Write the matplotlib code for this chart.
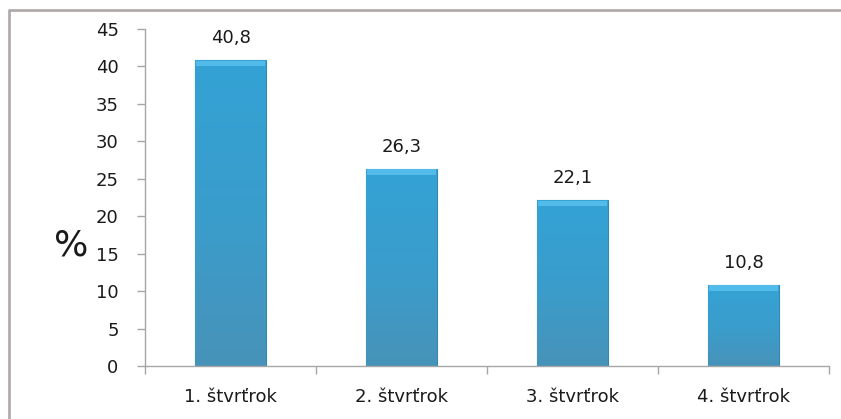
import matplotlib
matplotlib.use("Agg")
import matplotlib.pyplot as plt
from matplotlib.lines import Line2D
from matplotlib.colors import LinearSegmentedColormap
import numpy as np

categories = ["1. štvrťrok", "2. štvrťrok", "3. štvrťrok", "4. štvrťrok"]
values = [40.8, 26.3, 22.1, 10.8]
value_labels = ["40,8", "26,3", "22,1", "10,8"]
yticks = [0, 5, 10, 15, 20, 25, 30, 35, 40, 45]

plt.rcParams['font.family'] = ['DejaVu Sans']
FS = 13
TC = '#1a1a1a'

W, H = 841, 419
fig = plt.figure(figsize=(W/100, H/100), dpi=100)
ax = fig.add_axes([145/W, 1-366/H, (829-145)/W, (366-29)/H])

x = np.arange(len(categories))
bars = ax.bar(x, values, width=0.41, color='#3A9DCC', edgecolor='#3488B0', linewidth=0.8, zorder=2)
cmap = LinearSegmentedColormap.from_list('g', ['#4793B9', '#3A9DCC', '#34A2D5'])
grad = np.linspace(0, 1, 100).reshape(-1, 1)
for b in bars:
    x0 = b.get_x(); w = b.get_width(); h = b.get_height()
    im = ax.imshow(grad, cmap=cmap, origin='lower', aspect='auto',
                   extent=[x0, x0 + w, 0, h], zorder=2.5)
    im.set_clip_path(b)
    # top bevel highlight
    ax.bar(x0 + w/2, 0.75, width=w*0.97, bottom=h - 0.8, color='#52BBEA',
           linewidth=0, zorder=3)

for xi, v, lab in zip(x, values, value_labels):
    ax.text(xi, v + 2.3, lab, ha='center', va='baseline', fontsize=FS, color=TC)

ax.set_xlim(-0.5, 3.5)
ax.set_ylim(0, 45)
ax.set_yticks(yticks)
ax.set_yticklabels([str(t) for t in yticks], fontsize=FS, color=TC)
ax.set_xticks(x)
ax.set_xticklabels(categories, fontsize=FS, color=TC)
ax.set_xticks([-0.5, 0.5, 1.5, 2.5, 3.5], minor=True)
ax.tick_params(axis='x', which='major', length=0, pad=16)
ax.tick_params(axis='x', which='minor', length=6, color='#A6A6A6', width=1)
ax.tick_params(axis='y', length=6, color='#A6A6A6', width=1, pad=13)

for s in ['top', 'right']:
    ax.spines[s].set_visible(False)
for s in ['left', 'bottom']:
    ax.spines[s].set_color('#A6A6A6')
    ax.spines[s].set_linewidth(1)

fig.text(71/W, 1-246/H, '%', fontsize=26, ha='center', va='center', color=TC)

# outer frame (top and left border)
fx = 9/W
fy = 1-10/H
fig.add_artist(Line2D([fx, fx, 1.0], [0.0, fy, fy], transform=fig.transFigure,
                      color='#B3ABAB', linewidth=2))

fig.savefig('out.png', dpi=100)
